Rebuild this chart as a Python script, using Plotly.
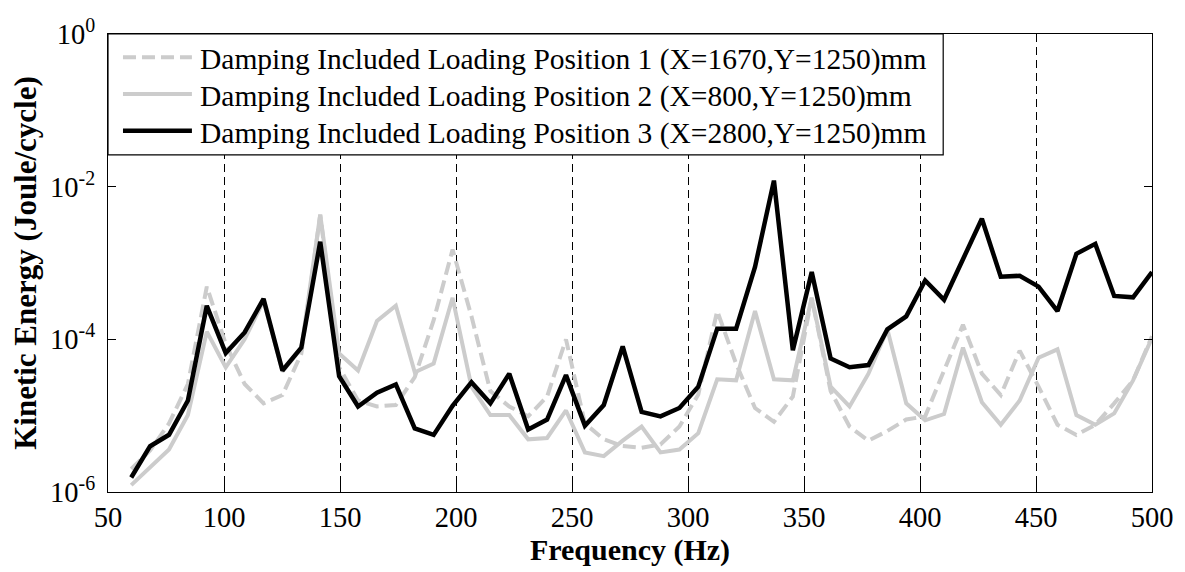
import plotly.graph_objects as go

# Frequency grid (Hz)
freq = [60.00, 68.15, 76.30, 84.44, 92.59, 100.74, 108.89, 117.04, 125.19, 133.33,
        141.48, 149.63, 157.78, 165.93, 174.07, 182.22, 190.37, 198.52, 206.67, 214.81,
        222.96, 231.11, 239.26, 247.41, 255.56, 263.70, 271.85, 280.00, 288.15, 296.30,
        304.44, 312.59, 320.74, 328.89, 337.04, 345.19, 353.33, 361.48, 369.63, 377.78,
        385.93, 394.07, 402.22, 410.37, 418.52, 426.67, 434.81, 442.96, 451.11, 459.26,
        467.41, 475.56, 483.70, 491.85, 500.00]

# Kinetic energy (Joule/cycle) - Loading Position 1 (dashed gray)
ke_pos1 = [2.0e-6, 3.5e-6, 7.9e-6, 2.6e-5, 4.9e-4, 8.7e-5, 2.6e-5, 1.45e-5, 1.86e-5, 6.5e-5,
           4.3e-3, 4.3e-5, 1.58e-5, 1.32e-5, 1.38e-5, 3.2e-5, 1.78e-4, 1.5e-3, 2.0e-4, 2.1e-5,
           1.32e-5, 9.8e-6, 1.78e-5, 1.0e-4, 7.9e-6, 4.9e-6, 4.0e-6, 3.8e-6, 4.2e-6, 7.2e-6,
           1.9e-5, 2.35e-4, 4.8e-5, 1.26e-5, 8.3e-6, 1.78e-5, 3.5e-4, 2.1e-5, 7.2e-6, 4.7e-6,
           6.3e-6, 8.9e-6, 9.8e-6, 3.9e-5, 1.55e-4, 3.55e-5, 1.86e-5, 7.1e-5, 2.4e-5, 7.6e-6,
           5.6e-6, 7.6e-6, 1.45e-5, 2.9e-5, 1.1e-4]

# Loading Position 2 (solid gray)
ke_pos2 = [1.23e-6, 2.1e-6, 3.6e-6, 1.02e-5, 1.26e-4, 4.3e-5, 1.0e-4, 3.2e-4, 3.8e-5, 7.6e-5,
           4.3e-3, 6.5e-5, 3.9e-5, 1.74e-4, 2.75e-4, 3.7e-5, 4.8e-5, 3.5e-4, 2.4e-5, 1.02e-5,
           1.02e-5, 4.9e-6, 5.1e-6, 1.17e-5, 3.3e-6, 2.95e-6, 4.7e-6, 7.2e-6, 3.3e-6, 3.6e-6,
           5.9e-6, 3.0e-5, 2.9e-5, 2.35e-4, 3.0e-5, 2.9e-5, 3.5e-4, 2.4e-5, 1.32e-5, 3.55e-5,
           1.35e-4, 1.45e-5, 8.7e-6, 1.05e-5, 7.8e-5, 1.5e-5, 7.6e-6, 1.58e-5, 5.75e-5, 7.4e-5,
           1.02e-5, 7.6e-6, 1.07e-5, 2.9e-5, 1.05e-4]

# Loading Position 3 (solid black)
ke_pos3 = [1.55e-6, 3.98e-6, 5.62e-6, 1.58e-5, 2.75e-4, 6.6e-5, 1.23e-4, 3.39e-4, 3.9e-5, 7.8e-5,
           1.9e-3, 3.3e-5, 1.32e-5, 2.0e-5, 2.57e-5, 6.8e-6, 5.6e-6, 1.35e-5, 2.75e-5, 1.45e-5,
           3.55e-5, 6.6e-6, 8.9e-6, 3.4e-5, 7.4e-6, 1.38e-5, 8.1e-5, 1.12e-5, 9.8e-6, 1.26e-5,
           2.4e-5, 1.38e-4, 1.38e-4, 8.9e-4, 1.2e-2, 7.2e-5, 7.6e-4, 5.6e-5, 4.3e-5, 4.6e-5,
           1.35e-4, 2.0e-4, 5.9e-4, 3.3e-4, 1.12e-3, 3.8e-3, 6.6e-4, 6.8e-4, 4.9e-4, 2.35e-4,
           1.32e-3, 1.78e-3, 3.7e-4, 3.55e-4, 7.6e-4]

names = ["Damping Included Loading Position 1 (X=1670,Y=1250)mm",
         "Damping Included Loading Position 2 (X=800,Y=1250)mm",
         "Damping Included Loading Position 3 (X=2800,Y=1250)mm"]

x_ticks = [50, 100, 150, 200, 250, 300, 350, 400, 450, 500]
y_ticks = [1e-6, 1e-4, 1e-2, 1]
y_ticktext = ["10<sup>-6</sup>", "10<sup>-4</sup>", "10<sup>-2</sup>", "10<sup>0</sup>"]

FONT = "Liberation Serif, Times New Roman, serif"
GRAY = "#cccccc"
DASH = "13px,6px"

styles = [dict(color=GRAY, width=4, dash=DASH),
          dict(color=GRAY, width=4, dash="solid"),
          dict(color="black", width=4.5, dash="solid")]

fig = go.Figure()
for yvals, nm, st in zip([ke_pos1, ke_pos2, ke_pos3], names, styles):
    fig.add_trace(go.Scatter(x=freq, y=yvals, mode="lines", name=nm,
                             line=st, showlegend=False))

# --- legend box drawn in paper coordinates (plot area: 1045 x 462 px) ---
W, H = 1045.0, 462.0
def px(xp):
    return xp / W
def py(yp):
    return 1 - yp / H

shapes = [dict(type="rect", xref="paper", yref="paper",
               x0=0, x1=px(836), y0=py(122), y1=1,
               fillcolor="white", line=dict(color="black", width=1.2), layer="above")]
annotations = []
row_y = [23.5, 60.5, 97.7]
for i, (nm, st) in enumerate(zip(names, styles)):
    shapes.append(dict(type="line", xref="paper", yref="paper",
                       x0=px(15), x1=px(84), y0=py(row_y[i]), y1=py(row_y[i]),
                       line=dict(color=st["color"], width=st["width"], dash=st["dash"]),
                       layer="above"))
    annotations.append(dict(xref="paper", yref="paper", x=px(90), y=py(row_y[i] + 2.5),
                            xanchor="left", yanchor="middle", showarrow=False, text=nm,
                            font=dict(family=FONT, size=29.5, color="black")))

fig.update_layout(
    width=1185, height=572,
    margin=dict(l=108, r=32, t=34, b=76),
    paper_bgcolor="white", plot_bgcolor="white",
    font=dict(family=FONT, size=28.5, color="black"),
    showlegend=False,
    shapes=shapes,
    annotations=annotations,
    xaxis=dict(range=[50, 500], tickvals=x_ticks, ticks="inside", ticklen=8,
               tickcolor="black", showline=True, linecolor="black", linewidth=1.2,
               mirror="allticks", showgrid=True, gridcolor="black", gridwidth=0.8,
               griddash="8px,5px", zeroline=False,
               title=dict(text="<b>Frequency (Hz)</b>", font=dict(family=FONT, size=30),
                          standoff=6)),
    yaxis=dict(type="log", range=[-6, 0], tickvals=y_ticks, ticktext=y_ticktext,
               ticks="inside", ticklen=8, tickcolor="black", showline=True,
               linecolor="black", linewidth=1.2, mirror="allticks", showgrid=False,
               zeroline=False, ticklabelstandoff=6,
               title=dict(text="<b>Kinetic Energy (Joule/cycle)</b>",
                          font=dict(family=FONT, size=31), standoff=4)),
)

fig.write_html("out.html")
